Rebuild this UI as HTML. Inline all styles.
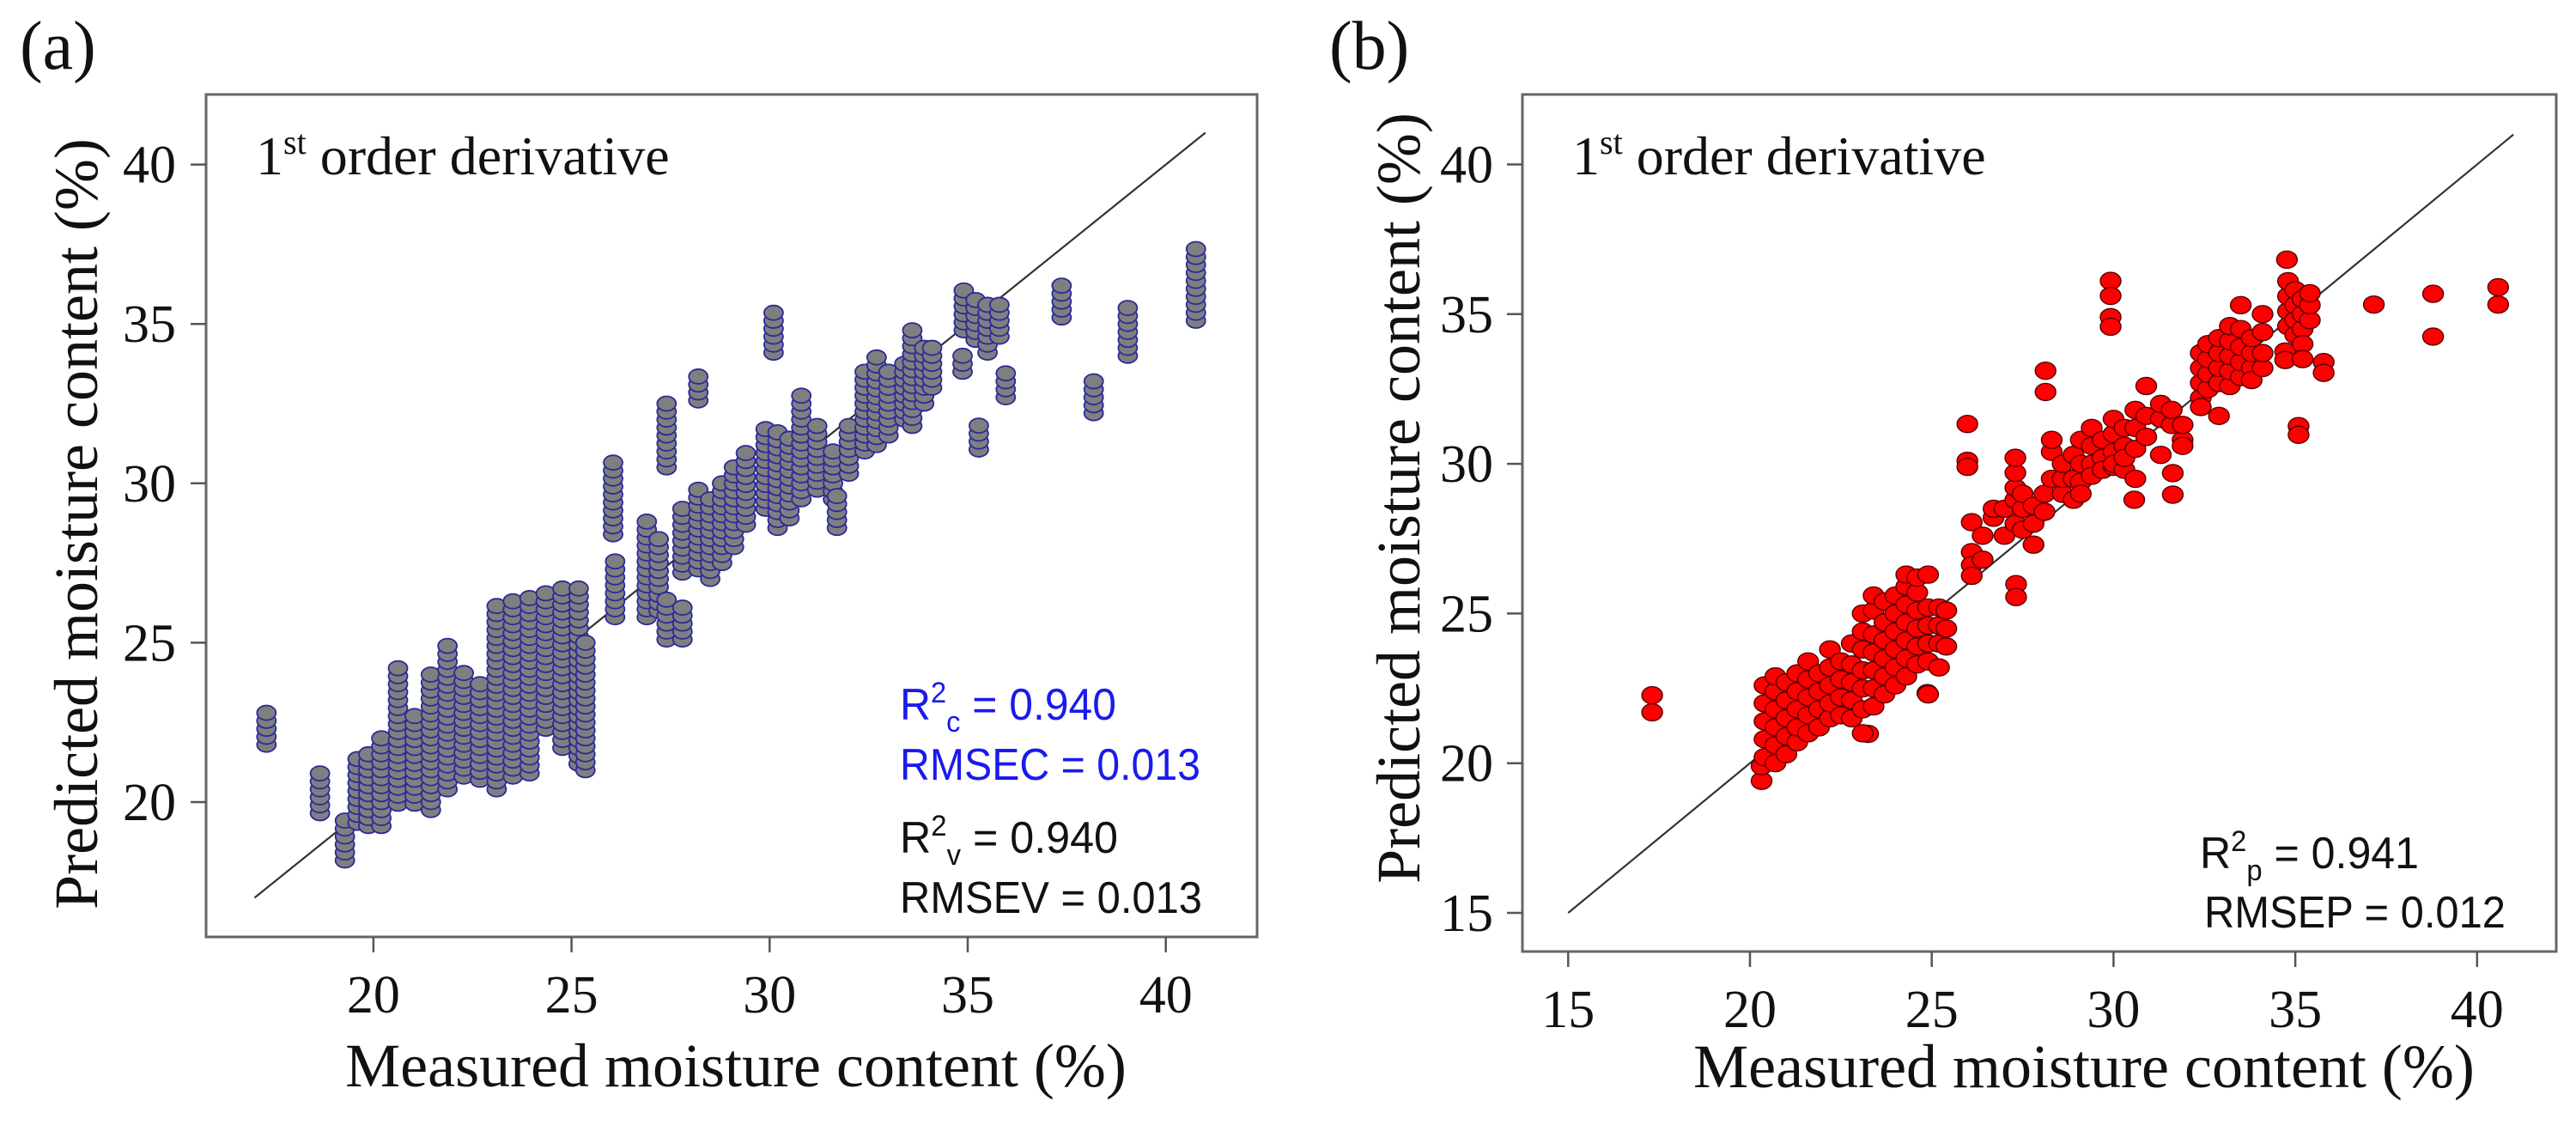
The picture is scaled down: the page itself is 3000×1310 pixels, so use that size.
<!DOCTYPE html>
<html><head><meta charset="utf-8"><style>
html,body{margin:0;padding:0;background:#fff;}
svg{display:block;}
.serif{font-family:"Liberation Serif","Times New Roman",serif;}
.sans{font-family:"Liberation Sans",Arial,sans-serif;}
</style></head><body>
<svg id="chart" xmlns="http://www.w3.org/2000/svg" width="3000" height="1310" viewBox="0 0 3000 1310">
<rect x="0" y="0" width="3000" height="1310" fill="#fff"/>
<g id="pa"></g>
<g id="pb"></g>
</svg>
<script>
// Panel (a): calibration/validation columns of stacked points
const aColX = [17.3,18.65,19.28,19.6,19.87,20.2,20.62,21.04,21.45,21.87,22.28,22.69,23.11,23.52,23.94,24.35,24.77,25.18,25.35,
 26.05,26.1,26.9,27.2,27.4,27.4,27.8,27.8,28.2,28.2,28.5,28.8,29.1,29.4,29.9,30.1,30.2,30.5,30.8,31.2,31.6,31.7,32.0,32.4,32.7,33.0,33.4,33.6,33.9,34.1,34.87,34.9,35.2,35.28,35.5,35.8,35.96,37.37,38.18,39.04,40.76];
const aColLo = [21.8,19.65,18.17,19.35,19.25,19.25,19.95,19.95,19.75,20.4,20.8,20.7,20.4,20.8,20.9,22.3,21.7,21.2,21.0,
 28.4,25.8,25.8,26.0,25.1,30.5,25.1,27.2,32.6,27.3,27.0,27.5,28.0,28.7,29.2,34.1,28.6,28.9,29.5,29.8,29.5,28.6,30.3,31.0,31.2,31.5,32.0,31.8,32.5,33.0,33.5,34.8,34.5,31.06,34.1,34.6,32.7,35.2,32.2,34.0,35.1];
const aColHi = [23.0,21.03,19.65,21.52,21.72,22.1,24.3,22.7,24.1,24.9,24.1,23.9,26.3,26.3,26.5,26.7,26.9,26.7,25.1,
 30.8,27.7,28.8,28.3,26.5,32.5,26.3,29.3,33.5,29.8,29.6,30.1,30.5,31.1,31.9,35.4,31.8,31.5,32.9,32.0,31.0,29.6,32.0,33.5,34.0,33.7,33.8,34.9,34.3,34.4,34.2,36.2,35.9,31.99,35.7,35.6,33.5,36.2,33.3,35.55,37.35];
const aStep = 0.25;
const aXTicks = [20,25,30,35,40];
const aYTicks = [20,25,30,35,40];

// Panel (b): prediction set points
const bX = [17.31,17.31,29.92,29.92,29.92,29.92,28.13,28.13,25.98,25.98,25.98,37.16,38.79,38.79,40.58,40.58,35.09,35.09,35.78,35.78,34.72,34.72,34.77,27.32,27.32,26.1,26.1,26.1,26.1,31.63,31.63,30.57,24.88,23.25,20.32,20.32,
 20.4,20.4,20.4,20.4,20.4,20.7,20.7,20.7,20.7,20.7,20.7,21.0,21.0,21.0,21.0,21.0,21.3,21.3,21.3,21.3,21.3,21.6,21.6,21.6,21.6,21.6,21.9,21.9,21.9,21.9,22.2,22.2,22.2,22.2,22.2,22.5,22.5,22.5,22.5,22.8,22.8,22.8,22.8,22.8,
 23.1,23.1,23.1,23.1,23.1,23.1,23.1,23.4,23.4,23.4,23.4,23.4,23.4,23.4,23.7,23.7,23.7,23.7,23.7,23.7,24.0,24.0,24.0,24.0,24.0,24.0,24.3,24.3,24.3,24.3,24.3,24.3,24.3,24.6,24.6,24.6,24.6,24.6,24.6,24.9,24.9,24.9,24.9,24.9,24.9,25.2,25.2,25.2,25.2,25.4,25.4,25.4,
 26.4,26.4,26.7,26.7,27.0,27.0,27.3,27.3,27.3,27.3,27.3,27.5,27.5,27.5,27.8,27.8,27.8,28.1,28.1,28.3,28.3,28.3,28.6,28.6,28.6,28.9,28.9,28.9,29.1,29.1,29.1,29.1,29.4,29.4,29.4,29.4,29.7,29.7,29.7,30.0,30.0,30.0,30.0,30.0,30.3,30.3,30.3,30.3,30.6,30.6,30.6,30.6,30.9,30.9,30.9,31.3,31.3,31.3,31.6,31.6,31.9,31.9,31.9,
 32.4,32.4,32.4,32.4,32.4,32.6,32.6,32.6,32.6,32.9,32.9,32.9,32.9,32.9,33.2,33.2,33.2,33.2,33.2,33.5,33.5,33.5,33.5,33.5,33.8,33.8,33.8,33.8,34.1,34.1,34.1,34.1,34.8,34.8,34.8,34.8,35.0,35.0,35.0,35.0,35.2,35.2,35.2,35.2,35.2,35.4,35.4,35.4];
const bY = [22.27,21.7,36.11,35.61,34.9,34.58,33.11,32.4,31.33,30.1,29.9,35.32,35.68,34.25,35.9,35.32,31.26,30.97,33.4,33.04,33.75,33.47,36.82,25.98,25.55,28.05,27.05,26.62,26.26,29.69,28.97,28.8,22.34,20.98,19.41,19.9,
 20.2,20.8,21.4,22.0,22.6,20.0,20.6,21.2,21.8,22.4,22.9,20.3,20.9,21.5,22.1,22.7,20.7,21.2,21.8,22.4,23.0,21.0,21.6,22.2,22.8,23.4,21.2,21.8,22.4,23.0,21.5,22.0,22.6,23.2,23.8,21.6,22.2,22.8,23.4,21.5,22.1,22.7,23.3,24.0,
 21.0,21.8,22.5,23.1,23.8,24.4,25.0,21.9,22.5,23.1,23.7,24.3,25.1,25.6,22.3,22.9,23.5,24.1,24.7,25.4,22.6,23.2,23.8,24.4,25.0,25.6,22.9,23.5,24.1,24.7,25.3,25.9,26.3,23.3,23.9,24.5,25.1,25.7,26.2,22.3,23.4,24.0,24.6,25.2,26.3,23.2,24.0,24.6,25.2,23.9,24.5,25.1,
 26.8,27.6,28.2,28.5,27.6,28.5,28.8,28.0,29.2,29.7,30.2,27.8,28.5,29.0,27.3,28.0,28.6,28.4,29.0,29.5,30.4,30.8,29.0,29.5,30.0,28.8,29.5,30.3,29.4,30.0,30.8,29.0,30.0,30.6,29.6,31.2,30.2,30.8,29.8,30.4,31.0,29.9,30.0,31.5,30.6,31.2,29.8,30.2,30.5,31.2,31.8,29.5,30.9,31.6,32.6,31.5,32.0,30.3,31.3,31.8,30.8,31.3,30.6,
 32.2,32.7,33.2,33.7,31.9,32.5,33.0,33.5,34.0,32.7,33.2,33.7,34.2,31.6,32.6,33.1,33.6,34.1,34.6,32.9,33.4,33.9,34.5,35.3,33.2,33.7,34.2,32.8,33.2,33.7,34.4,35.0,34.6,35.1,35.6,36.1,34.3,34.8,35.3,35.8,34.5,35.0,35.5,34.0,33.5,34.8,35.3,35.7];
const bXTicks = [15,20,25,30,35,40];
const bYTicks = [15,20,25,30,35,40];

const NS = "http://www.w3.org/2000/svg";
function mk(parent, tag, attrs, text){
  const el = document.createElementNS(NS, tag);
  for (const k in attrs) el.setAttribute(k, attrs[k]);
  if (text !== undefined) el.textContent = text;
  parent.appendChild(el);
  return el;
}
// axis functions
const axA = {x: v => 434.9 + (v-20)*46.14, y: v => 934 - (v-20)*37.12};
const axB = {x: v => 1826.3 + (v-15)*42.34, y: v => 1063 - (v-15)*34.86};

function frame(g, ax, box, xt, yt, lineFrom, lineTo, tickLabelRight){
  const d = mk(g,'line',{x1:ax.x(lineFrom),y1:ax.y(lineFrom),x2:ax.x(lineTo),y2:ax.y(lineTo),stroke:'#333','stroke-width':2.2});
  
  
  const r = mk(g,'rect',{x:box[0],y:box[1],width:box[2]-box[0],height:box[3]-box[1],fill:'none',stroke:'#666','stroke-width':3});
  
  
  xt.forEach(v=>{
    const t = mk(g,'line',{x1:ax.x(v),y1:box[3],x2:ax.x(v),y2:box[3]+18,stroke:'#555','stroke-width':2.5});
    
    
    const l = mk(g,'text',{x:ax.x(v),y:box[3]+88,'text-anchor':'middle','font-size':62,class:'serif',fill:'#111'},String(v));
    
    
  });
  yt.forEach(v=>{
    const t = mk(g,'line',{x1:box[0]-18,y1:ax.y(v),x2:box[0],y2:ax.y(v),stroke:'#555','stroke-width':2.5});
    
    
    const l = mk(g,'text',{x:tickLabelRight,y:ax.y(v)+21,'text-anchor':'end','font-size':62,class:'serif',fill:'#111'},String(v));
    
    
  });
}

const gA = document.getElementById('pa');
frame(gA, axA, [240,110,1464,1091], aXTicks, aYTicks, 17, 41, 205);
const ptsA = mk(gA,'g',{});


aColX.forEach((x,i)=>{
  for (let y = aColLo[i]; y <= aColHi[i] + 1e-6; y += aStep){
    const c = mk(ptsA,'ellipse',{cx:axA.x(x),cy:axA.y(y),rx:11,ry:8.5,fill:'#7f7f7f',stroke:'#2a2a9a','stroke-width':1.8});
    
    
  }
});

const gB = document.getElementById('pb');
frame(gB, axB, [1773,110,2977,1108], bXTicks, bYTicks, 15, 41, 1739);
const ptsB = mk(gB,'g',{});


bX.forEach((x,i)=>{
  const c = mk(ptsB,'ellipse',{cx:axB.x(x),cy:axB.y(bY[i]),rx:12,ry:10,fill:'#ff0000',stroke:'#550000','stroke-width':1.4});
  
  
});
</script>
<svg style="position:absolute;left:0;top:0" width="3000" height="1310" xmlns="http://www.w3.org/2000/svg">
<text class="serif" x="23" y="80" font-size="80" fill="#111">(a)</text>
<text class="serif" x="1548" y="80" font-size="80" fill="#111">(b)</text>
<text class="serif" x="298" y="203" font-size="64" fill="#111">1<tspan font-size="40" dy="-24">st</tspan><tspan dy="24"> order derivative</tspan></text>
<text class="serif" x="1831" y="203" font-size="64" fill="#111">1<tspan font-size="40" dy="-24">st</tspan><tspan dy="24"> order derivative</tspan></text>
<text class="serif" x="857" y="1265" font-size="72" text-anchor="middle" fill="#111">Measured moisture content (%)</text>
<text class="serif" x="2427" y="1266" font-size="72" text-anchor="middle" fill="#111">Measured moisture content (%)</text>
<text class="serif" font-size="72" text-anchor="middle" fill="#111" transform="translate(113,610) rotate(-90)">Predicted moisture content (%)</text>
<text class="serif" font-size="72" text-anchor="middle" fill="#111" transform="translate(1653,580) rotate(-90)">Predicted moisture content (%)</text>
<g class="sans" font-size="52">
<text x="1048" y="838" fill="#1a1aee" textLength="252" lengthAdjust="spacingAndGlyphs">R<tspan font-size="34" dy="-20">2</tspan><tspan font-size="34" dy="34">c</tspan><tspan dy="-14"> = 0.940</tspan></text>
<text x="1048" y="908" fill="#1a1aee" textLength="350" lengthAdjust="spacingAndGlyphs">RMSEC = 0.013</text>
<text x="1048" y="993" fill="#111" textLength="254" lengthAdjust="spacingAndGlyphs">R<tspan font-size="34" dy="-20">2</tspan><tspan font-size="34" dy="34">v</tspan><tspan dy="-14"> = 0.940</tspan></text>
<text x="1048" y="1063" fill="#111" textLength="352" lengthAdjust="spacingAndGlyphs">RMSEV = 0.013</text>
<text x="2562" y="1011" fill="#111" textLength="255" lengthAdjust="spacingAndGlyphs">R<tspan font-size="34" dy="-20">2</tspan><tspan font-size="34" dy="34">p</tspan><tspan dy="-14"> = 0.941</tspan></text>
<text x="2567" y="1080" fill="#111" textLength="351" lengthAdjust="spacingAndGlyphs">RMSEP = 0.012</text>
</g>
</svg>
</body></html>
